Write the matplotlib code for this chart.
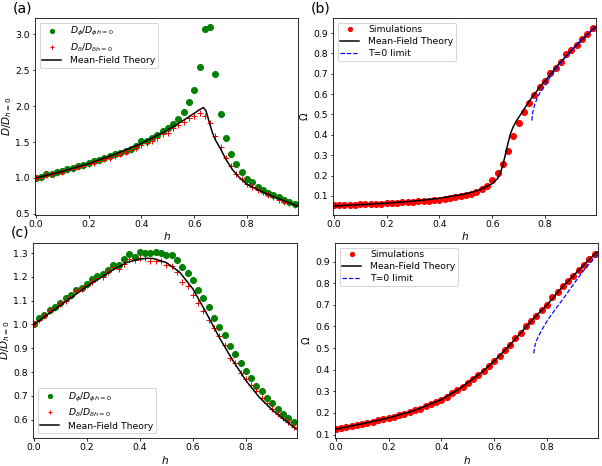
import numpy as np
import matplotlib
matplotlib.use('Agg')
import matplotlib.pyplot as plt

### Simulation grid (shared by all panels)
h = [0.00, 0.02, 0.04, 0.06, 0.08, 0.10, 0.12, 0.14, 0.16, 0.18,
     0.20, 0.22, 0.24, 0.26, 0.28, 0.30, 0.32, 0.34, 0.36, 0.38,
     0.40, 0.42, 0.44, 0.46, 0.48, 0.50, 0.52, 0.54, 0.56, 0.58,
     0.60, 0.62, 0.64, 0.66, 0.68, 0.70, 0.72, 0.74, 0.76, 0.78,
     0.80, 0.82, 0.84, 0.86, 0.88, 0.90, 0.92, 0.94, 0.96, 0.98]

### Panel (a)
a_phi = [1.00, 1.01, 1.05, 1.06, 1.08, 1.10, 1.12, 1.14, 1.16, 1.18,
         1.21, 1.23, 1.25, 1.28, 1.30, 1.33, 1.35, 1.38, 1.41, 1.44,
         1.51, 1.52, 1.56, 1.60, 1.66, 1.70, 1.75, 1.82, 1.92, 2.06,
         2.23, 2.54, 3.07, 3.10, 2.44, 1.89, 1.56, 1.33, 1.19, 1.08,
         0.99, 0.94, 0.88, 0.83, 0.79, 0.76, 0.73, 0.70, 0.67, 0.64]
a_delta = [1.00, 1.00, 1.04, 1.06, 1.07, 1.09, 1.11, 1.13, 1.15, 1.17,
           1.19, 1.21, 1.23, 1.26, 1.28, 1.31, 1.33, 1.36, 1.39, 1.42,
           1.46, 1.49, 1.52, 1.56, 1.61, 1.63, 1.70, 1.73, 1.78, 1.84,
           1.86, 1.90, 1.86, 1.76, 1.58, 1.43, 1.28, 1.16, 1.06, 0.99,
           0.92, 0.88, 0.84, 0.80, 0.76, 0.73, 0.70, 0.67, 0.65, 0.62]
a_mft_h = [0.00, 0.10, 0.20, 0.30, 0.40, 0.50, 0.55, 0.60, 0.62, 0.635,
           0.645, 0.658, 0.67, 0.68, 0.696, 0.72, 0.746, 0.77, 0.80, 0.85,
           0.90, 0.95, 0.99]
a_mft = [1.00, 1.09, 1.20, 1.33, 1.48, 1.67, 1.78, 1.90, 1.95, 1.98,
         1.93, 1.76, 1.62, 1.53, 1.43, 1.26, 1.11, 1.01, 0.91, 0.82,
         0.74, 0.67, 0.61]

### Panel (b)
b_sim = [0.053, 0.054, 0.055, 0.056, 0.057, 0.058, 0.059, 0.060, 0.061, 0.062,
         0.064, 0.065, 0.066, 0.068, 0.069, 0.071, 0.073, 0.075, 0.077, 0.079,
         0.082, 0.085, 0.088, 0.092, 0.097, 0.103, 0.110, 0.120, 0.132, 0.150,
         0.180, 0.210, 0.256, 0.320, 0.395, 0.457, 0.510, 0.555, 0.595, 0.633,
         0.666, 0.705, 0.730, 0.760, 0.795, 0.815, 0.843, 0.872, 0.897, 0.924]
b_mft_h = [0.00, 0.10, 0.20, 0.30, 0.40, 0.50, 0.55, 0.60, 0.62, 0.63,
           0.64, 0.65, 0.66, 0.67, 0.68, 0.69, 0.70, 0.72, 0.74, 0.76,
           0.78, 0.80, 0.85, 0.90, 0.95, 0.99]
b_mft = [0.050, 0.057, 0.064, 0.074, 0.088, 0.110, 0.128, 0.160, 0.185, 0.210,
         0.250, 0.305, 0.360, 0.410, 0.440, 0.465, 0.485, 0.525, 0.565, 0.600,
         0.635, 0.665, 0.745, 0.815, 0.880, 0.930]
b_t0_h = [0.75, 0.752, 0.755, 0.76, 0.77, 0.78, 0.80, 0.82, 0.84, 0.86,
          0.88, 0.90, 0.93, 0.96, 0.99]
b_t0 = [0.470, 0.500, 0.520, 0.545, 0.580, 0.605, 0.645, 0.685, 0.720, 0.755,
        0.785, 0.815, 0.860, 0.895, 0.930]

### Panel (c)
c_phi = [1.000, 1.028, 1.040, 1.060, 1.075, 1.090, 1.110, 1.125, 1.145, 1.155,
         1.170, 1.190, 1.205, 1.210, 1.230, 1.250, 1.250, 1.275, 1.295, 1.285,
         1.305, 1.300, 1.300, 1.305, 1.300, 1.290, 1.290, 1.270, 1.240, 1.215,
         1.185, 1.145, 1.110, 1.075, 1.025, 0.990, 0.955, 0.910, 0.875, 0.840,
         0.805, 0.775, 0.740, 0.720, 0.690, 0.670, 0.645, 0.625, 0.605, 0.590]
c_delta = [1.000, 1.020, 1.035, 1.055, 1.070, 1.085, 1.100, 1.120, 1.140, 1.150,
           1.165, 1.180, 1.195, 1.200, 1.220, 1.240, 1.235, 1.255, 1.275, 1.270,
           1.280, 1.280, 1.265, 1.265, 1.265, 1.250, 1.245, 1.220, 1.180, 1.160,
           1.125, 1.090, 1.055, 1.020, 0.985, 0.950, 0.915, 0.860, 0.840, 0.795,
           0.770, 0.745, 0.720, 0.690, 0.670, 0.645, 0.625, 0.605, 0.590, 0.570]
c_mft_h = [0.00, 0.05, 0.10, 0.15, 0.20, 0.25, 0.30, 0.35, 0.40, 0.43,
           0.45, 0.50, 0.55, 0.60, 0.65, 0.70, 0.75, 0.80, 0.85, 0.90,
           0.95, 0.99]
c_mft = [1.000, 1.040, 1.080, 1.120, 1.160, 1.195, 1.230, 1.260, 1.275, 1.278,
         1.277, 1.260, 1.220, 1.150, 1.050, 0.945, 0.850, 0.765, 0.695, 0.640,
         0.595, 0.560]

### Panel (d)
d_sim = [0.125, 0.130, 0.135, 0.140, 0.145, 0.150, 0.155, 0.160, 0.165, 0.170,
         0.177, 0.183, 0.190, 0.197, 0.205, 0.212, 0.220, 0.230, 0.240, 0.250,
         0.262, 0.275, 0.290, 0.305, 0.320, 0.340, 0.355, 0.375, 0.395, 0.418,
         0.440, 0.465, 0.490, 0.515, 0.545, 0.570, 0.600, 0.625, 0.650, 0.675,
         0.700, 0.735, 0.760, 0.785, 0.810, 0.835, 0.860, 0.885, 0.910, 0.935]
d_mft_h = [0.00, 0.10, 0.20, 0.30, 0.40, 0.46, 0.50, 0.55, 0.60, 0.65,
           0.70, 0.75, 0.80, 0.85, 0.90, 0.95, 0.99]
d_mft = [0.125, 0.150, 0.177, 0.212, 0.262, 0.305, 0.340, 0.385, 0.440, 0.502,
         0.570, 0.638, 0.700, 0.772, 0.835, 0.898, 0.945]
d_t0_h = [0.75, 0.752, 0.755, 0.76, 0.77, 0.78, 0.80, 0.82, 0.85, 0.88,
          0.90, 0.93, 0.96, 0.99]
d_t0 = [0.475, 0.500, 0.515, 0.535, 0.560, 0.583, 0.625, 0.660, 0.710, 0.760,
        0.795, 0.845, 0.890, 0.930]

phiLabel = r'$D_\phi/D_{\phi h=0}$'
deltaLabel = r'$D_\delta/D_{\delta h=0}$'

plt.rcParams['font.size'] = 9.2
plt.rcParams['xtick.major.size'] = 2.5
plt.rcParams['ytick.major.size'] = 2.5
plt.rcParams['xtick.major.pad'] = 2.5
plt.rcParams['ytick.major.pad'] = 2.5
plt.rcParams['axes.labelpad'] = 1.5
plt.rcParams['legend.labelspacing'] = 0.3
plt.rcParams['legend.handletextpad'] = 1.0
plt.rcParams['legend.borderpad'] = 0.3
plt.rcParams['legend.markerscale'] = 0.7

fig = plt.figure(figsize=(602/72., 466/72.), dpi=72)
W, H = 602., 466.

def box(l, r, t, b):
  return [l/W, 1 - b/H, (r - l)/W, (b - t)/H]

axA = fig.add_axes(box(35, 298, 18, 215))
axB = fig.add_axes(box(333, 596, 18, 215))
axC = fig.add_axes(box(33, 297, 243, 438))
axD = fig.add_axes(box(335, 598, 243, 438))

### Diffusion ratios
for ax, phi, delta, mh, m in ((axA, a_phi, a_delta, a_mft_h, a_mft),
                              (axC, c_phi, c_delta, c_mft_h, c_mft)):
  ax.plot(h, phi, 'go', label=phiLabel)
  ax.plot(h, delta, 'r+', label=deltaLabel)
  ax.plot(mh, m, 'k-', label='Mean-Field Theory')
  ax.set_ylabel(r'$D/D_{h=0}$', fontsize=10.5, labelpad=1)

axA.legend(loc='upper left')
axC.legend(loc='lower left')
axA.set_yticks([0.5, 1.0, 1.5, 2.0, 2.5, 3.0])
axC.set_yticks([0.6, 0.7, 0.8, 0.9, 1.0, 1.1, 1.2, 1.3])

### Omega
for ax, sim, mh, m, th, t in ((axB, b_sim, b_mft_h, b_mft, b_t0_h, b_t0),
                              (axD, d_sim, d_mft_h, d_mft, d_t0_h, d_t0)):
  ax.plot(h, sim, 'ro', label='Simulations')
  ax.plot(mh, m, 'k-', label='Mean-Field Theory')
  ax.plot(th, t, '--', color='blue', linewidth=1.2, label='T=0 limit')
  ax.set_ylabel(r'$\Omega$', fontsize=10, labelpad=3)
  ax.legend(loc='upper left')
  ax.set_yticks([0.1, 0.2, 0.3, 0.4, 0.5, 0.6, 0.7, 0.8, 0.9])

for ax in (axA, axB, axC, axD):
  ax.set_xlim(-0.003, 0.993)
  ax.set_xticks([0.0, 0.2, 0.4, 0.6, 0.8])
  ax.set_xlabel(r'$h$', fontsize=10.5)

fig.text(13/W, 1 - 1/H, '(a)', fontsize=14, va='top')
fig.text(311/W, 1 - 1/H, '(b)', fontsize=14, va='top')
fig.text(11/W, 1 - 226/H, '(c)', fontsize=14, va='top')

plt.savefig('out.png', dpi=72)
